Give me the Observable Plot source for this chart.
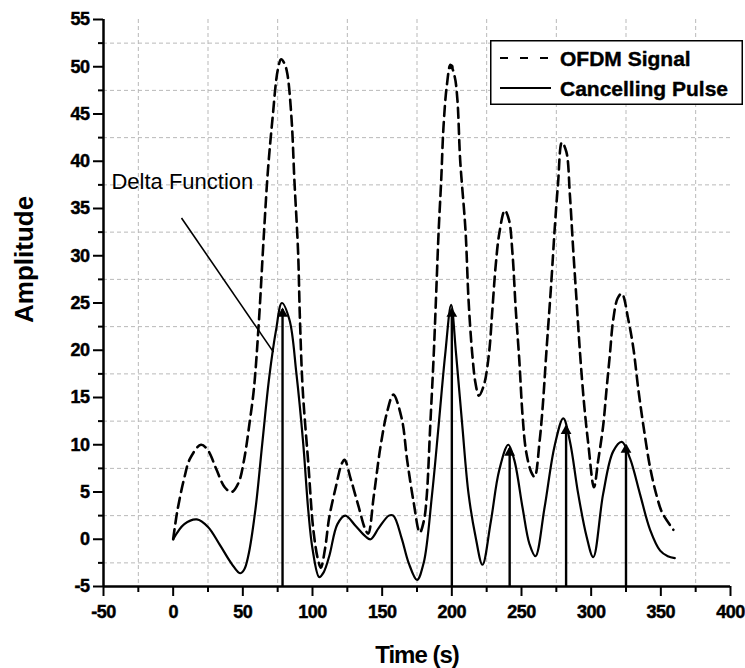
<!DOCTYPE html>
<html>
<head>
<meta charset="utf-8">
<script src="https://cdn.jsdelivr.net/npm/d3@7"></script>
<script src="https://cdn.jsdelivr.net/npm/@observablehq/plot@0.6"></script>
<style>
  body { margin: 0; background: #fff; }
  #wrap { position: relative; width: 745px; height: 668px; font-family: 'Liberation Sans', Arial, sans-serif; }
  #legend { position: absolute; left: 490px; top: 40px; }
</style>
</head>
<body>
<div id="wrap"></div>
<script>
// ---- data ----
const ofdmTime = [0,3,8,12,20,25,31,37,42,47,51,55,58,61.5,65,68,71.3,75,77.5,80,82,85,87,89.6,91,93,97,100.6,104,106,109,112,116.7,121,123,127.4,133,138,140,144,148.8,153.6,158,164,168,172.6,177,180,182,184.5,187,189,190.5,192.4,194,196.4,199,202,204,206,209.8,212,214.6,217,219.4,223,226.7,229,231.5,234,238,241,243.6,245.8,248.4,250.8,253.3,257,259.4,263,265.3,267.8,271.4,273.8,276.2,279,282.2,284.7,287,289.5,292,295,298,302,305,308.6,311,313.4,315.8,319,322,326.7,330.3,333.9,337.5,342.3,347,351,359];
const ofdmAmp  = [0,3,6.5,8.5,10,9.4,7.4,5.5,5,6,8.5,12.5,16,23,32,39,44.5,49.6,50.8,50.3,49.2,44.4,38,30.6,23.2,15.8,8,1,-2.2,-3,-1,2.3,5.5,8,8.4,6.4,3.5,1,0.6,4.6,9.8,13.5,15.3,12.8,8.3,3.9,0.7,2,4.6,12,19.5,26.9,32.5,38.1,43.6,48,50.2,49,46.5,40.1,32.7,25.3,19.7,16.5,15.2,16.3,19.7,24.1,29,32.3,34.8,33.8,30.1,24.5,19,13,9.3,7.1,6.6,10.4,14.2,19.7,27.2,32.8,37.6,42,41,36.5,30.9,25.3,19.7,14.2,10,5.5,8.3,12,15.8,19.5,23.2,25.5,26,23.2,20.2,15.8,12,7.6,4.6,2.8,1];

const pulseTime = [0,8,17,25,33.5,42,48,51,54,59,64,69,73.8,78,83.5,88.4,93.3,97,100,104.8,108,112,117.9,123.5,131,138,141.7,147.6,154.8,158,164,169,175,179.8,185.7,190.5,195.2,199.5,203,207.4,212,217,222,227.9,234,240.5,244.8,250.8,255.7,260,266.5,273.8,280,284.7,290.7,296.7,301.5,308.6,315.8,322,328,335,342.3,349.5,355,360];
const pulseAmp  = [0,1.6,2.1,1.3,-0.6,-2.6,-3.6,-3.2,-1.7,3.1,10.2,17.2,22.1,25,23.2,17.6,10.2,3,-1,-4,-3.5,-1.8,1.6,2.5,1.4,0.3,0,1.2,2.5,2.5,0.1,-2.5,-4.3,-2.5,4.6,12,19.5,24.8,19.7,12.2,4.8,0.3,-2.7,1.8,7.3,10,8.4,3.3,-0.5,-1.8,3.3,9.9,12.8,10.4,4.8,0.3,-1.9,4.8,9.3,10.3,8.5,4.8,1,-1.2,-1.8,-2];

const deltaTime = [78.5, 200, 241.5, 282, 325];
const deltaAmp  = [24.3, 24.3, 9.6, 11.9, 9.9];

const peakMarker = [{t: 199.5, a: 50}];

const annotLabel = "Delta Function";
const annotTextPos = [-44.3, 37.1];
const annotLine = [{x1: 6, y1: 34, x2: 72, y2: 19.8}];

const xMajor = [-50,0,50,100,150,200,250,300,350,400];
const xMinor = [-25,25,75,125,175,225,275,325,375];
const yMajor = [-5,0,5,10,15,20,25,30,35,40,45,50,55];
const yMinor = [-2.5,2.5,7.5,12.5,17.5,22.5,27.5,32.5,37.5,42.5,47.5,52.5];

const seriesNames = ["OFDM Signal", "Cancelling Pulse"];
const xTitle = "Time (s)";
const yTitle = "Amplitude";

// ---- tables ----
const ofdm = ofdmTime.map((t, i) => ({t, a: ofdmAmp[i]}));
const pulse = pulseTime.map((t, i) => ({t, a: pulseAmp[i]}));
const deltas = deltaTime.map((t, i) => ({t, a: deltaAmp[i], base: yMajor[0]}));

const gridStyle = {stroke: "#b9b9b9", strokeOpacity: 1, strokeWidth: 1, strokeDasharray: "4,3"};
const tickLabelSet = new Set([...xMajor, ...yMajor].map(String));

const chart = Plot.plot({
  width: 745,
  height: 668,
  marginLeft: 103,
  marginRight: 15,
  marginTop: 19,
  marginBottom: 82,
  style: {fontFamily: "'Liberation Sans', Arial, sans-serif", background: "white", color: "black", overflow: "visible"},
  x: {domain: [xMajor[0], xMajor[xMajor.length - 1]]},
  y: {domain: [yMajor[0], yMajor[yMajor.length - 1]]},
  marks: [
    Plot.gridX(xMinor, gridStyle),
    Plot.gridY(yMinor, gridStyle),
    Plot.axisX(xMajor, {tickSize: 10, tickPadding: 9, fontSize: 18, fontWeight: "bold", strokeWidth: 2, label: null, tickFormat: d => String(d)}),
    Plot.axisX(xMinor, {tickSize: 6, strokeWidth: 2, label: null, tickFormat: () => ""}),
    Plot.axisY(yMajor, {tickSize: 10, tickPadding: 4, fontSize: 18, fontWeight: "bold", strokeWidth: 2, label: null, tickFormat: d => String(d)}),
    Plot.axisY(yMinor, {tickSize: 5, strokeWidth: 2, label: null, tickFormat: () => ""}),
    Plot.ruleX([xMajor[0]], {stroke: "black", strokeWidth: 2.5}),
    Plot.ruleY([yMajor[0]], {stroke: "black", strokeWidth: 2.5}),
    Plot.line(ofdm, {x: "t", y: "a", curve: "catmull-rom", stroke: "black", strokeWidth: 2.6, strokeDasharray: "10,6"}),
    Plot.line(pulse, {x: "t", y: "a", curve: "catmull-rom", stroke: "black", strokeWidth: 2.2}),
    Plot.ruleX(deltas, {x: "t", y1: "base", y2: "a", stroke: "black", strokeWidth: 2.4}),
    Plot.dot(deltas, {x: "t", y: "a", symbol: "triangle", r: 4, fill: "black", stroke: "none", dy: 4}),
    Plot.dot(peakMarker, {x: "t", y: "a", r: 2.5, fill: "black", stroke: "none"}),
    Plot.link(annotLine, {x1: "x1", y1: "y1", x2: "x2", y2: "y2", stroke: "black", strokeWidth: 1.6}),
    Plot.text([annotLabel], {x: annotTextPos[0], y: annotTextPos[1], text: d => d, textAnchor: "start", lineAnchor: "bottom", fontSize: 22, fontWeight: "normal", fill: "black"}),
    Plot.text([xTitle], {frameAnchor: "bottom", text: d => d, lineAnchor: "bottom", dy: 76, fontSize: 24, fontWeight: "bold", fill: "black"}),
    Plot.text([yTitle], {frameAnchor: "left", text: d => d, rotate: -90, lineAnchor: "bottom", dx: -71, dy: 20, fontSize: 26, fontWeight: "bold", fill: "black"})
  ]
});
document.getElementById("wrap").appendChild(chart);
chart.querySelectorAll("text").forEach(t => {
  const s = t.textContent.trim();
  if (s === xTitle) t.setAttribute("letter-spacing", "-1");
  if (tickLabelSet.has(s)) {
    t.style.fontSize = "18px";
    t.style.fontWeight = "bold";
    t.style.letterSpacing = "-0.5px";
    t.style.stroke = "black";
    t.style.strokeWidth = "0.45px";
  }
});

// ---- legend ----
const lw = 253, lh = 65;
const leg = d3.select("#wrap").append("div").attr("id", "legend")
  .append("svg").attr("width", lw).attr("height", lh);
leg.append("rect").attr("x", 0.75).attr("y", 0.75).attr("width", lw - 1.5).attr("height", lh - 1.5)
  .attr("fill", "white").attr("stroke", "black").attr("stroke-width", 1.5);
const rows = [{name: seriesNames[0], dash: "8,12", y: 18}, {name: seriesNames[1], dash: null, y: 48}];
rows.forEach(r => {
  leg.append("line").attr("x1", 10).attr("x2", 61).attr("y1", r.y).attr("y2", r.y)
    .attr("stroke", "black").attr("stroke-width", 2).attr("stroke-dasharray", r.dash);
  leg.append("text").attr("x", 70).attr("y", r.y + 8).text(r.name)
    .attr("font-family", "'Liberation Sans', Arial, sans-serif").attr("font-weight", "bold")
    .attr("font-size", 21).attr("fill", "black").attr("stroke", "black").attr("stroke-width", 0.4);
});
</script>
</body>
</html>
